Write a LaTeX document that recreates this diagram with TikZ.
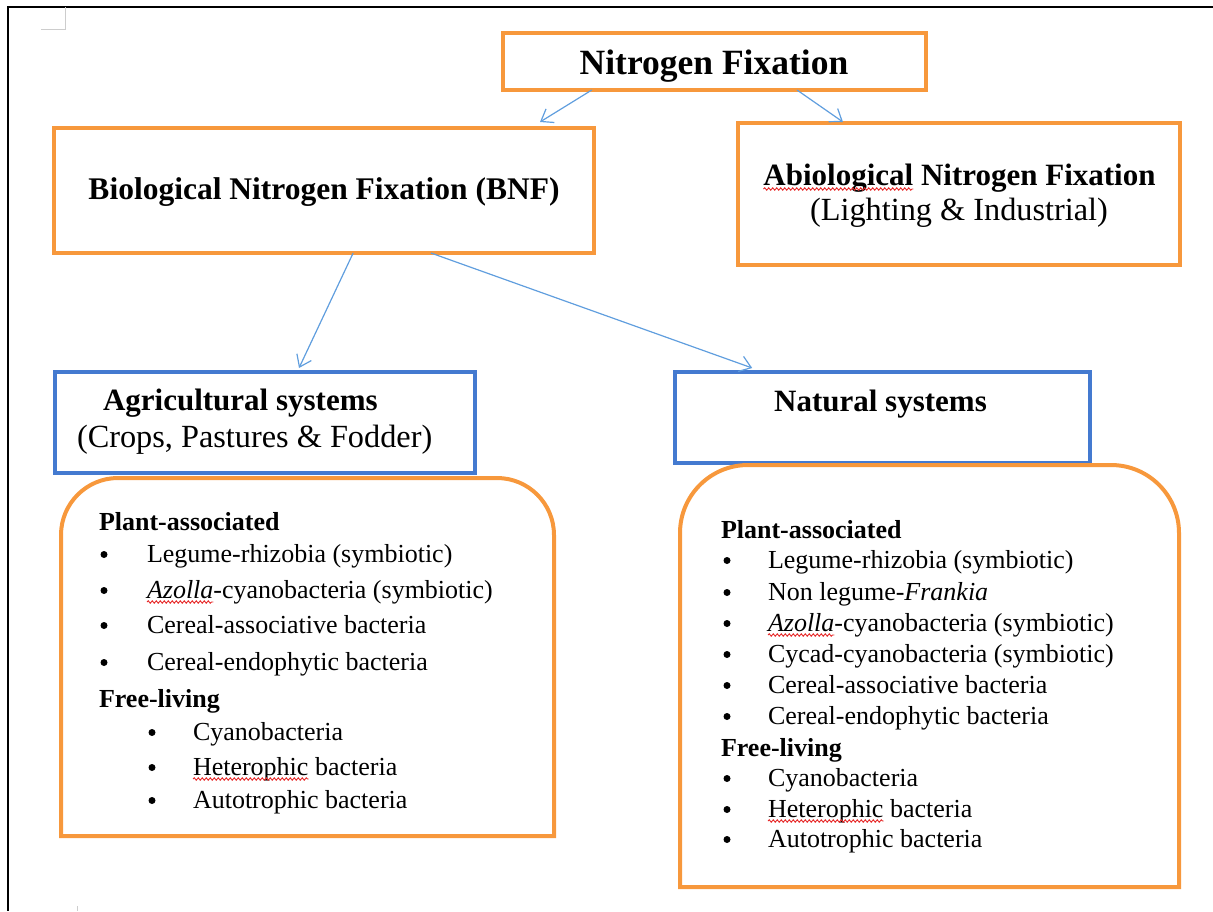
\documentclass[tikz,border=0pt]{standalone}
\usepackage{fontspec}
\setmainfont{Liberation Serif}
\usetikzlibrary{arrows.meta,calc,decorations.pathmorphing}
\definecolor{boxorange}{RGB}{247,152,60}
\definecolor{boxblue}{RGB}{68,122,208}
\definecolor{arrowblue}{RGB}{96,158,222}
\definecolor{cornergray}{RGB}{205,205,205}
\definecolor{spellred}{RGB}{230,40,40}
\newcommand\titlefont{\fontsize{35.5}{40}\selectfont\bfseries}
\newcommand\headfont{\fontsize{31}{36}\selectfont\bfseries}
\newcommand\bnffont{\fontsize{31.5}{36}\selectfont\bfseries}
\newcommand\subfont{\fontsize{32.3}{36}\selectfont}
\newcommand\listfont{\fontsize{26}{30}\selectfont}
\newlength\sqwA
\newlength\sqwB
\newlength\sqwC
\begin{document}
\settowidth\sqwA{\headfont Abiological}%
\settowidth\sqwB{\listfont\itshape Azolla}%
\settowidth\sqwC{\listfont Heterophic}%
\begin{tikzpicture}[x=1pt,y=1pt,
  obox/.style={draw=boxorange, line width=4pt, inner sep=0pt, outer sep=0pt},
  bbox/.style={draw=boxblue, line width=4pt, inner sep=0pt, outer sep=0pt},
  arr/.style={draw=arrowblue, line width=1.2pt, -{Straight Barb[length=11pt,width=16pt,line width=1.2pt]}},
  txt/.style={inner sep=0pt, outer sep=0pt},
  lst/.style={txt, anchor=base west, font=\listfont},
  lsthead/.style={txt, anchor=base west, font=\listfont\bfseries},
  bul/.style={circle, fill=black, draw=none, inner sep=0pt, minimum size=7pt, yshift=7.5pt},
  squig/.style={draw=spellred, line width=0.9pt, decorate, decoration={snake, amplitude=1.2pt, segment length=4pt}},
]
\useasboundingbox (0,0) rectangle (1213,-911);

% page frame and corner marks
\draw[line width=2.5pt] (1213,-7) -- (8,-7) -- (8,-911);
\draw[cornergray, line width=1pt] (41,-29) -- (65,-29) -- (65,-7);
\draw[cornergray, line width=1pt] (77,-906) -- (77,-911);

% boxes
\node[obox, minimum width=423pt, minimum height=57pt] (nf) at (714.5,-61.5) {};
\node[obox, minimum width=540pt, minimum height=125pt] (bnf) at (324,-190.5) {};
\node[obox, minimum width=442pt, minimum height=142pt] (abnf) at (959,-194) {};
\node[bbox, minimum width=420pt, minimum height=101pt] (agri) at (265,-422.5) {};
\node[bbox, minimum width=415pt, minimum height=91pt] (nat) at (882.5,-417.5) {};

% rounded containers
\draw[draw=boxorange, line width=4pt] (61,-836) -- (61,-535) arc[start angle=180,end angle=90,radius=57] -- (497,-478) arc[start angle=90,end angle=0,radius=57] -- (554,-836) -- cycle;
\draw[draw=boxorange, line width=4pt] (680,-887) -- (680,-533) arc[start angle=180,end angle=90,radius=68] -- (1111,-465) arc[start angle=90,end angle=0,radius=68] -- (1179,-887) -- cycle;

% box texts
\node[txt, anchor=base, font=\titlefont] (nft) at (714,-74) {Nitrogen Fixation};
\node[txt, anchor=base, font=\bnffont] (bnft) at (324,-199) {Biological Nitrogen Fixation (BNF)};
\node[txt, anchor=base, font=\headfont] (abt1) at (959.5,-185) {Abiological Nitrogen Fixation};
\node[txt, anchor=base, font=\subfont] (abt2) at (959,-220) {(Lighting \& Industrial)};
\node[txt, anchor=base west, font=\headfont] (agt1) at (103,-410) {Agricultural systems};
\node[txt, anchor=base west, font=\subfont] (agt2) at (77,-447) {(Crops, Pastures \& Fodder)};
\node[txt, anchor=base, font=\headfont] (natt) at (880.5,-411) {Natural systems};
\draw[squig] ([yshift=-4pt]abt1.base west) -- ++(\sqwA,0);

% connectors
\draw[arr] ($(nf.south west)!0.21!(nf.south east)$) -- ($(bnf.north west)!0.9!(bnf.north east)+(0,6)$);
\draw[arr] ($(nf.south west)!0.695!(nf.south east)$) -- ($(abnf.north west)!0.2375!(abnf.north east)+(0,1)$);
\draw[arr] ($(bnf.south west)!0.554!(bnf.south east)$) -- ($(agri.north west)!0.581!(agri.north east)+(0,4)$);
\draw[arr] ($(bnf.south west)!0.698!(bnf.south east)$) -- ($(nat.north west)!0.186!(nat.north east)+(0,4)$);

% left list
\node[lsthead] (lh1) at (99,-530) {Plant-associated};
\node[bul] (lb1) at (104,-562) {};
\node[lst] (lt1) at (147,-562) {Legume-rhizobia (symbiotic)};
\node[bul] (lb2) at (104,-598) {};
\node[lst] (lt2) at (147,-598) {\textit{Azolla}-cyanobacteria (symbiotic)};
\node[bul] (lb3) at (104,-633) {};
\node[lst] (lt3) at (147,-633) {Cereal-associative bacteria};
\node[bul] (lb4) at (104,-670) {};
\node[lst] (lt4) at (147,-670) {Cereal-endophytic bacteria};
\node[lsthead] (lh2) at (99,-707) {Free-living};
\node[bul] (lb5) at (152,-740) {};
\node[lst] (lt5) at (193,-740) {Cyanobacteria};
\node[bul] (lb6) at (152,-775) {};
\node[lst] (lt6) at (193,-775) {Heterophic bacteria};
\node[bul] (lb7) at (152,-808) {};
\node[lst] (lt7) at (193,-808) {Autotrophic bacteria};
\draw[squig] ([yshift=-4pt]lt2.base west) -- ++(\sqwB,0);
\draw[squig] ([yshift=-4pt]lt6.base west) -- ++(\sqwC,0);

% right list
\node[lsthead] (rh1) at (721,-538) {Plant-associated};
\node[bul] (rb1) at (727,-568) {};
\node[lst] (rt1) at (768,-568) {Legume-rhizobia (symbiotic)};
\node[bul] (rb2) at (727,-600) {};
\node[lst] (rt2) at (768,-600) {Non legume-\textit{Frankia}};
\node[bul] (rb3) at (727,-631) {};
\node[lst] (rt3) at (768,-631) {\textit{Azolla}-cyanobacteria (symbiotic)};
\node[bul] (rb4) at (727,-662) {};
\node[lst] (rt4) at (768,-662) {Cycad-cyanobacteria (symbiotic)};
\node[bul] (rb5) at (727,-693) {};
\node[lst] (rt5) at (768,-693) {Cereal-associative bacteria};
\node[bul] (rb6) at (727,-724) {};
\node[lst] (rt6) at (768,-724) {Cereal-endophytic bacteria};
\node[lsthead] (rh2) at (721,-756) {Free-living};
\node[bul] (rb7) at (727,-786) {};
\node[lst] (rt7) at (768,-786) {Cyanobacteria};
\node[bul] (rb8) at (727,-817) {};
\node[lst] (rt8) at (768,-817) {Heterophic bacteria};
\node[bul] (rb9) at (727,-847) {};
\node[lst] (rt9) at (768,-847) {Autotrophic bacteria};
\draw[squig] ([yshift=-4pt]rt3.base west) -- ++(\sqwB,0);
\draw[squig] ([yshift=-4pt]rt8.base west) -- ++(\sqwC,0);
\end{tikzpicture}
\end{document}
